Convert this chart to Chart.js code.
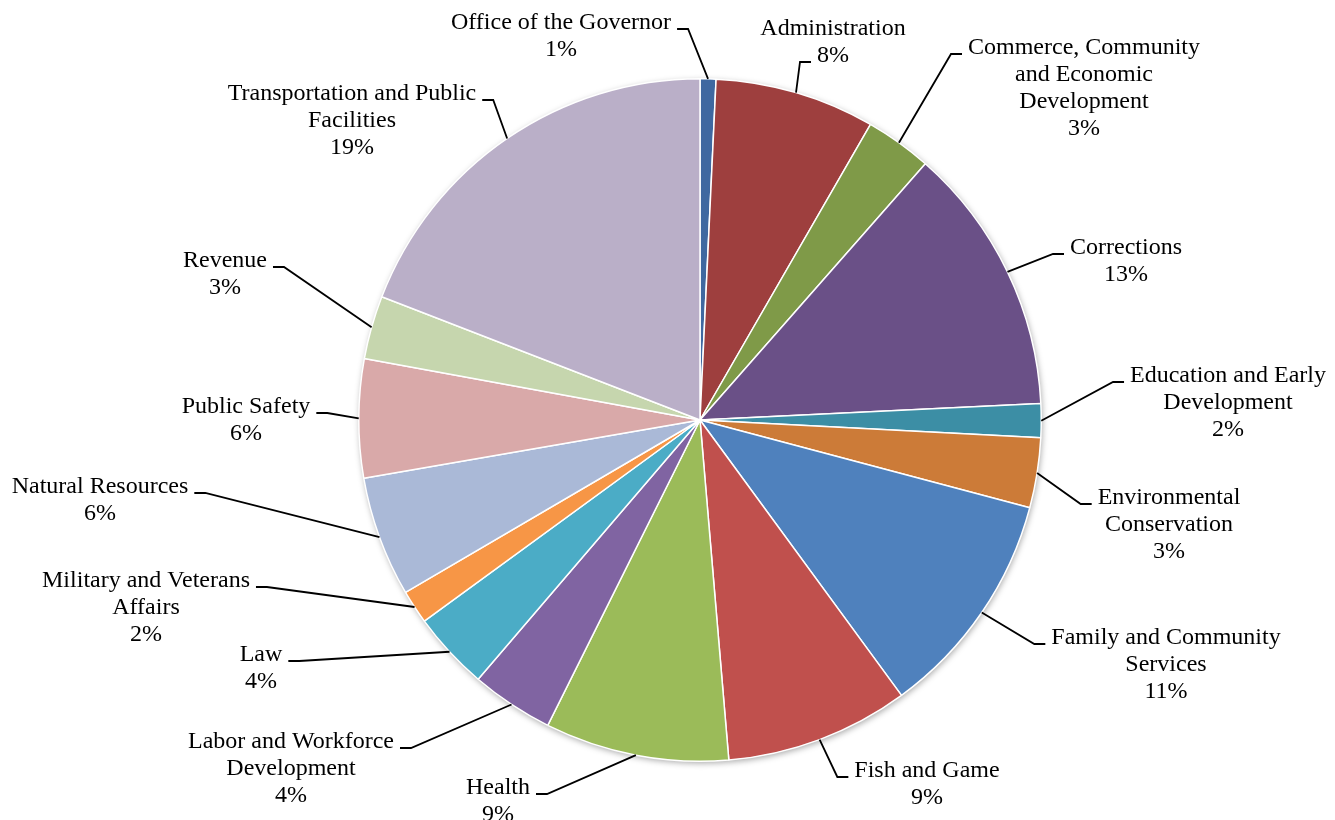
<!DOCTYPE html>
<html>
<head>
<meta charset="utf-8">
<script src="https://cdn.jsdelivr.net/npm/chart.js@4.4.0/dist/chart.umd.min.js"></script>
<style>
  html, body { margin: 0; padding: 0; background: #fff; }
  #wrap { width: 1335px; height: 820px; }
</style>
</head>
<body>
<div id="wrap"><canvas id="grafico" width="1335" height="820"></canvas></div>
<script>
// Departamentos (no sentido horario a partir do topo)
const departamentos = [
  'Office of the Governor',
  'Administration',
  'Commerce, Community\nand Economic\nDevelopment',
  'Corrections',
  'Education and Early\nDevelopment',
  'Environmental\nConservation',
  'Family and Community\nServices',
  'Fish and Game',
  'Health',
  'Labor and Workforce\nDevelopment',
  'Law',
  'Military and Veterans\nAffairs',
  'Natural Resources',
  'Public Safety',
  'Revenue',
  'Transportation and Public\nFacilities'
];

// participacao estimada (%)
const valores = [0.75, 7.57, 3.15, 12.74, 1.6, 3.3, 10.8, 8.7, 8.7, 3.9, 3.7, 1.6, 5.7, 5.6, 3.0, 19.1];

const cores = [
  '#3f68a0', '#9e3f3e', '#7f9a48', '#6a5087', '#3c8ea5', '#cc7b38', '#4f81bd', '#c0504d',
  '#9bbb59', '#8064a2', '#4bacc6', '#f79646', '#aab9d7', '#d9a9a9', '#c6d6ae', '#baafc8'
];

// posicao dos rotulos em relacao ao centro da pizza (centro do bloco em x, 1a linha em y)
const rotuloDx = [-139, 133, 384, 426, 528, 469, 466, 227, -202, -409, -439, -554, -600, -454, -475, -348];
const rotuloDy = [-397, -391, -372, -172, -44, 78, 218, 351, 368, 322, 235, 161, 67, -13, -159, -326];
// linha do rotulo onde a linha de chamada encosta
const rotuloLinha = [0, 1, 0, 0, 0, 0, 0, 0, 0, 0, 0, 0, 0, 0, 0, 0];

const fonte = "24px 'Liberation Serif', 'Times New Roman', serif";
const alturaLinha = 27;

const sombra = {
  id: 'sombra',
  beforeDatasetsDraw(chart) {
    const arc = chart.getDatasetMeta(0).data[0];
    const ctx = chart.ctx;
    ctx.save();
    ctx.beginPath();
    ctx.arc(arc.x, arc.y, arc.outerRadius, 0, Math.PI * 2);
    ctx.fillStyle = '#fff';
    ctx.shadowColor = 'rgba(0,0,0,0.35)';
    ctx.shadowBlur = 6;
    ctx.shadowOffsetX = 1;
    ctx.shadowOffsetY = 2;
    ctx.fill();
    ctx.restore();
  }
};

const rotulos = {
  id: 'rotulos',
  afterDatasetsDraw(chart) {
    const ctx = chart.ctx;
    const total = valores.reduce((a, b) => a + b, 0);
    ctx.save();
    ctx.font = fonte;
    ctx.fillStyle = '#000';
    ctx.strokeStyle = '#000';
    ctx.lineWidth = 1.8;
    ctx.textAlign = 'center';
    ctx.textBaseline = 'middle';
    chart.getDatasetMeta(0).data.forEach((arc, i) => {
      const meio = (arc.startAngle + arc.endAngle) / 2;
      const px = arc.x + Math.cos(meio) * arc.outerRadius;
      const py = arc.y + Math.sin(meio) * arc.outerRadius;
      const linhas = departamentos[i].split('\n');
      linhas.push(Math.round(valores[i] / total * 100) + '%');
      const cx = arc.x + rotuloDx[i];
      const y0 = arc.y + rotuloDy[i];
      linhas.forEach((t, k) => ctx.fillText(t, cx, y0 + k * alturaLinha));

      // linha de chamada
      const k = rotuloLinha[i];
      const w = ctx.measureText(linhas[k]).width;
      const lado = cx < arc.x ? 1 : -1;
      const bordaX = cx + lado * (w / 2 + 6);
      const cotoY = y0 + k * alturaLinha + 6;
      const cotoX = bordaX + lado * 11;
      ctx.beginPath();
      ctx.moveTo(bordaX, cotoY);
      ctx.lineTo(cotoX, cotoY);
      ctx.lineTo(px, py);
      ctx.stroke();
    });
    ctx.restore();
  }
};

new Chart(document.getElementById('grafico').getContext('2d'), {
  type: 'pie',
  data: {
    labels: departamentos,
    datasets: [{
      data: valores,
      backgroundColor: cores,
      borderColor: '#fff',
      borderWidth: 1.5
    }]
  },
  options: {
    responsive: false,
    animation: false,
    layout: { padding: { top: 78, bottom: 58, left: 300, right: 235 } },
    plugins: {
      legend: { display: false },
      tooltip: { enabled: false }
    }
  },
  plugins: [sombra, rotulos]
});
</script>
</body>
</html>
